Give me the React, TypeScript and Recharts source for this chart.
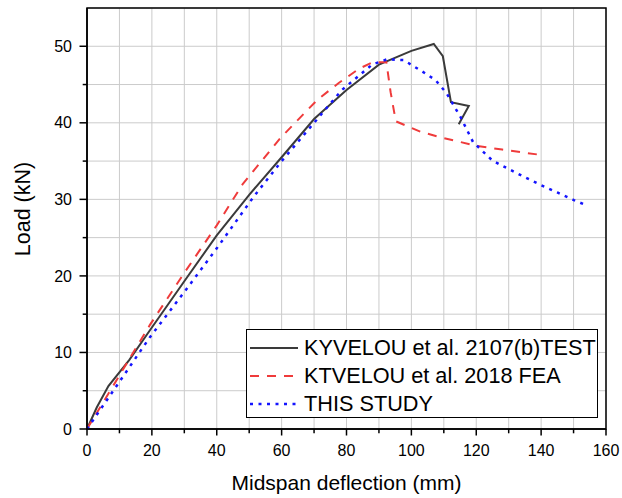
import {
  LineChart,
  Line,
  XAxis,
  YAxis,
  CartesianGrid,
  Legend,
  ReferenceArea,
} from "recharts";

const xTicks = [0, 10, 20, 30, 40, 50, 60, 70, 80, 90, 100, 110, 120, 130, 140, 150, 160];
const yTicks = [0, 5, 10, 15, 20, 25, 30, 35, 40, 45, 50, 55];

// KYVELOU et al. test
const testDeflection = [0, 3, 6.6, 13, 19.4, 30, 40, 50, 60, 70, 80, 90, 100, 106.9, 109.7, 112.2, 117.7, 114.6];
const testLoad = [0, 2.8, 5.6, 9, 12.9, 19.3, 25.3, 30.6, 35.5, 40.5, 44.3, 47.6, 49.4, 50.3, 48.7, 42.7, 42.2, 39.8];

// KTVELOU et al. FEA
const feaDeflection = [0, 8, 19.4, 30, 40, 48, 59.6, 71, 77.6, 84, 88, 92.3, 93.6, 95.2, 103, 110, 120, 128, 140];
const feaLoad = [0, 5.6, 13.6, 20.4, 26.6, 32, 38, 43, 45.2, 47.1, 47.9, 47.9, 44, 40.2, 38.8, 38, 37, 36.5, 35.8];

// this study
const studyDeflection = [0, 10.2, 19.4, 30, 40, 51.3, 60, 69.4, 78.6, 87.9, 92.5, 97.6, 103, 107.4, 110.8, 115.1, 119, 124.9, 127.5, 134, 139.8, 145, 150.1, 153];
const studyLoad = [0, 6.3, 12, 17.9, 23.6, 30.3, 35, 39.7, 44.3, 47.6, 48.3, 48.2, 46.8, 45.6, 43.9, 40.8, 37.5, 35.1, 34.5, 33.1, 31.9, 30.9, 29.9, 29.4];

const toPoints = (xs: number[], ys: number[]) => xs.map((x, i) => ({ x, y: ys[i] }));

const testData = toPoints(testDeflection, testLoad);
const feaData = toPoints(feaDeflection, feaLoad);
const studyData = toPoints(studyDeflection, studyLoad);

const FONT = '"Liberation Sans", Arial, sans-serif';

const series = [
  { name: "KYVELOU et al. 2107(b)TEST", color: "#3a3a3a", dash: undefined, width: 2 },
  { name: "KTVELOU et al. 2018 FEA", color: "#ef3b3b", dash: "9 8", width: 2 },
  { name: "THIS STUDY", color: "#1414ff", dash: "3 5.5", width: 2.5 },
];

const XTick = (props: any) => {
  const { x, y, payload } = props;
  const major = payload.value % 20 === 0;
  return (
    <g>
      <line x1={x} x2={x} y1={y} y2={y + (major ? 6.5 : 4.3)} stroke="#000" strokeWidth={1.5} />
      {major && (
        <text x={x} y={y + 16} dy="0.71em" textAnchor="middle" fontSize={16} fontFamily={FONT} fill="#000">
          {payload.value}
        </text>
      )}
    </g>
  );
};

const YTick = (props: any) => {
  const { x, y, payload } = props;
  const major = payload.value % 10 === 0;
  if (payload.value > 50) return <g />;
  return (
    <g>
      <line x1={x} x2={x - (major ? 7.5 : 4.3)} y1={y} y2={y} stroke="#000" strokeWidth={1.5} />
      {major && (
        <text x={x - 15} y={y} dy="0.355em" textAnchor="end" fontSize={16} fontFamily={FONT} fill="#000">
          {payload.value}
        </text>
      )}
    </g>
  );
};

const LegendBox = () => (
  <div
    style={{
      boxSizing: "border-box",
      width: 352,
      height: 89,
      border: "1px solid #000",
      background: "#fff",
      paddingTop: 4,
      fontFamily: FONT,
      fontSize: 21.7,
      color: "#000",
    }}
  >
    {series.map((s) => (
      <div key={s.name} style={{ height: 28, display: "flex", alignItems: "center", whiteSpace: "nowrap" }}>
        <svg width={54} height={10} style={{ marginLeft: 3, flex: "none" }}>
          <line x1={0} x2={48} y1={5} y2={5} stroke={s.color} strokeWidth={s.width} strokeDasharray={s.dash} />
        </svg>
        <span style={{ marginLeft: 0 }}>{s.name}</span>
      </div>
    ))}
  </div>
);

const YTitle = (props: any) => {
  const vb = props.viewBox || { y: 8, height: 421 };
  const cy = vb.y + vb.height / 2 - 9.5;
  return (
    <text
      x={23}
      y={cy}
      transform={`rotate(-90 23 ${cy})`}
      textAnchor="middle"
      dominantBaseline="central"
      fontSize={21.5}
      fontFamily={FONT}
      fill="#000"
    >
      Load (kN)
    </text>
  );
};

export default function App() {
  return (
    <div style={{ position: "absolute", left: 0, top: 0, background: "#fff" }}>
      <LineChart width={622} height={498} margin={{ top: 8, right: 16, left: 0, bottom: 0 }}>
        <CartesianGrid stroke="#cbcbcb" strokeWidth={1} />
        <XAxis
          type="number"
          dataKey="x"
          domain={[0, 160]}
          ticks={xTicks}
          interval={0}
          height={69}
          tickSize={0}
          tickMargin={0}
          tickLine={false}
          axisLine={{ stroke: "#000", strokeWidth: 1.5 }}
          tick={<XTick />}
          label={{
            value: "Midspan deflection (mm)",
            position: "insideBottom",
            offset: 8,
            fontSize: 21,
            fontFamily: FONT,
            fill: "#000",
          }}
        />
        <YAxis
          type="number"
          dataKey="y"
          domain={[0, 55]}
          ticks={yTicks}
          interval={0}
          width={87}
          tickSize={0}
          tickMargin={0}
          tickLine={false}
          axisLine={{ stroke: "#000", strokeWidth: 1.5 }}
          tick={<YTick />}
          label={<YTitle />}
        />
        <ReferenceArea x1={0} x2={160} y1={0} y2={55} fill="none" stroke="#000" strokeWidth={1.5} ifOverflow="visible" />
        <Line
          data={testData}
          dataKey="y"
          type="linear"
          stroke={series[0].color}
          strokeWidth={series[0].width}
          dot={false}
          isAnimationActive={false}
        />
        <Line
          data={feaData}
          dataKey="y"
          type="linear"
          stroke={series[1].color}
          strokeWidth={series[1].width}
          strokeDasharray={series[1].dash}
          dot={false}
          isAnimationActive={false}
        />
        <Line
          data={studyData}
          dataKey="y"
          type="linear"
          stroke={series[2].color}
          strokeWidth={series[2].width}
          strokeDasharray={series[2].dash}
          dot={false}
          isAnimationActive={false}
        />
        <Legend
          layout="vertical"
          align="center"
          verticalAlign="middle"
          content={<LegendBox />}
          wrapperStyle={{ left: 246, top: 329, width: 352 }}
        />
      </LineChart>
    </div>
  );
}
